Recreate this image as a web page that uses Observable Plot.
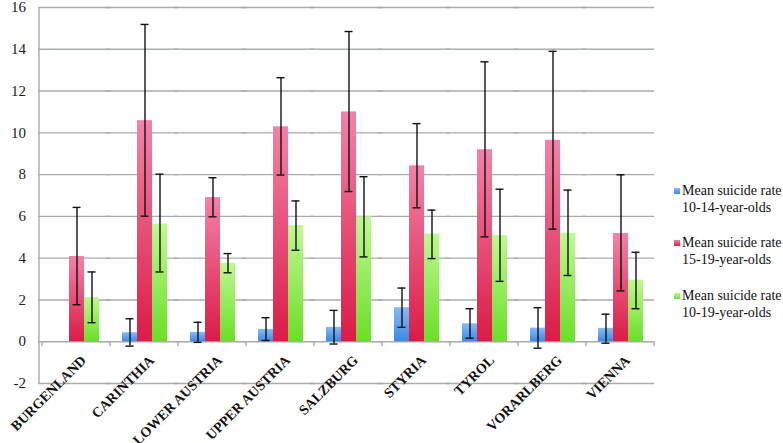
<!DOCTYPE html>
<html>
<head>
<meta charset="utf-8">
<script src="https://cdn.jsdelivr.net/npm/d3@7"></script>
<script src="https://cdn.jsdelivr.net/npm/@observablehq/plot@0.6"></script>
<style>
  body { margin: 0; background: #fff; }
  #wrap { position: relative; width: 783px; height: 443px; }
  .leg { position: absolute; left: 674px; font-family: "Liberation Serif", "Times New Roman", serif; font-size: 14px; line-height: 17px; color: #111; white-space: nowrap; }
  .leg .sw { position: absolute; left: 0; top: 6px; width: 6px; height: 6px; }
  .leg .tx { margin-left: 8px; }
</style>
</head>
<body>
<div id="wrap"></div>
<script>
// ---- data ----
const regions = ["BURGENLAND", "CARINTHIA", "LOWER AUSTRIA", "UPPER AUSTRIA", "SALZBURG", "STYRIA", "TYROL", "VORARLBERG", "VIENNA"];
const seriesKeys = ["10-14", "15-19", "10-19"];
const seriesLabels = ["Mean suicide rate\n10-14-year-olds", "Mean suicide rate\n15-19-year-olds", "Mean suicide rate\n10-19-year-olds"];
const yTicks = [-2, 0, 2, 4, 6, 8, 10, 12, 14, 16];

const rate10_14 = [null, 0.43, 0.45, 0.59, 0.69, 1.63, 0.86, 0.65, 0.64];
const low10_14  = [null, -0.21, -0.03, 0.06, -0.11, 0.69, 0.17, -0.31, -0.07];
const high10_14 = [null, 1.10, 0.93, 1.15, 1.50, 2.57, 1.58, 1.63, 1.32];

const rate15_19 = [4.08, 10.58, 6.90, 10.29, 11.00, 8.42, 9.19, 9.64, 5.18];
const low15_19  = [1.77, 6.01, 5.98, 7.98, 7.19, 6.41, 5.02, 5.39, 2.43];
const high15_19 = [6.43, 15.19, 7.85, 12.64, 14.85, 10.44, 13.40, 13.90, 7.99];

const rate10_19 = [2.11, 5.63, 3.75, 5.56, 5.98, 5.15, 5.08, 5.19, 2.94];
const low10_19  = [0.91, 3.34, 3.30, 4.38, 4.06, 3.98, 2.89, 3.17, 1.58];
const high10_19 = [3.34, 8.02, 4.22, 6.74, 7.90, 6.30, 7.30, 7.26, 4.28];

// ---- build table ----
const seriesData = [
  [rate10_14, low10_14, high10_14],
  [rate15_19, low15_19, high15_19],
  [rate10_19, low10_19, high10_19]
];
const rows = [];
seriesKeys.forEach((s, si) => {
  regions.forEach((r, ri) => {
    const [rate, lo, hi] = seriesData[si];
    if (rate[ri] != null) rows.push({region: r, series: s, rate: rate[ri], low: lo[ri], high: hi[ri]});
  });
});

const gradIds = {"10-14": "gBlue", "15-19": "gRed", "10-19": "gGreen"};
const gradStops = {
  gBlue: ["#86bcf6", "#3a89e4"],
  gRed: ["#f382a8", "#db1b46"],
  gGreen: ["#bff893", "#6adf27"]
};

const grid = "#a7adad";

const barMarks = seriesKeys.map(s => Plot.barY(rows.filter(d => d.series === s), {
  fx: "region", x: "series", y: "rate", fill: `url(#${gradIds[s]})`, insetLeft: 0, insetRight: 0
}));

const plot = Plot.plot({
  width: 783,
  height: 443,
  marginLeft: 39,
  marginRight: 127,
  marginTop: 7,
  marginBottom: 60,
  style: {fontFamily: "'Liberation Serif', 'Times New Roman', serif", fontSize: "14px", color: "#222", background: "#fff"},
  fx: {domain: regions, padding: 0, axis: null, label: null},
  x: {domain: seriesKeys, paddingInner: 0, paddingOuter: 0.74, axis: null, label: null},
  y: {domain: [-2, 16], axis: null, label: null},
  marks: [
    Plot.gridY(yTicks, {stroke: grid, strokeOpacity: 1, strokeWidth: 1.4, insetLeft: -4}),
    ...barMarks,
    Plot.ruleX(rows, {fx: "region", x: "series", y1: "low", y2: "high", stroke: "#111", strokeWidth: 1.4}),
    Plot.tickY(rows, {fx: "region", x: "series", y: "low", stroke: "#111", strokeWidth: 1.4, insetLeft: 3.5, insetRight: 3.5}),
    Plot.tickY(rows, {fx: "region", x: "series", y: "high", stroke: "#111", strokeWidth: 1.4, insetLeft: 3.5, insetRight: 3.5}),
    Plot.text(regions, {fx: d => d, x: () => seriesKeys[1], y: () => 0, text: d => d, rotate: -45, textAnchor: "end",
      fontWeight: "bold", fontSize: 14, fill: "#111"})
  ]
});

const fx = plot.scale("fx");
const y = plot.scale("y");
const svgNode = plot.tagName === "svg" ? plot : plot.querySelector("svg");
const svg = d3.select(svgNode);
const x0 = fx.range[0];
const bw = fx.bandwidth;
const ns = "http://www.w3.org/2000/svg";

// category labels: each Plot text sits in its facet group (origin shifted by fx(r) - marginLeft);
// wrap it in a translate group and a rotate group, and give the text no x/y/dy of its own
const labelNodes = [];
svg.selectAll("text").each(function() { if (regions.includes(this.textContent)) labelNodes.push(this); });
labelNodes.forEach(node => {
  const localX = x0 + bw / 2 + 3;
  const localY = y.apply(0) + 19.5;
  const g1 = document.createElementNS(ns, "g");
  g1.setAttribute("transform", `translate(${localX},${localY})`);
  const g2 = document.createElementNS(ns, "g");
  g2.setAttribute("transform", "rotate(-45)");
  node.parentNode.insertBefore(g1, node);
  g1.appendChild(g2);
  g2.appendChild(node);
  node.removeAttribute("transform");
  node.removeAttribute("x");
  node.removeAttribute("y");
  node.removeAttribute("dx");
  node.removeAttribute("dy");
  node.setAttribute("text-anchor", "end");
});

const defs = svg.insert("defs", ":first-child");
Object.entries(gradStops).forEach(([id, [c0, c1]]) => {
  const g = defs.append("linearGradient").attr("id", id).attr("x1", 0).attr("y1", 0).attr("x2", 0).attr("y2", 1);
  g.append("stop").attr("offset", "0%").attr("stop-color", c0);
  g.append("stop").attr("offset", "100%").attr("stop-color", c1);
});

const ax = svg.append("g");
ax.append("line").attr("x1", x0).attr("x2", x0).attr("y1", y.apply(16)).attr("y2", y.apply(-2))
  .attr("stroke", grid).attr("stroke-width", 1.4);
const bounds = regions.map(r => fx.apply(r)).concat([fx.apply(regions[regions.length - 1]) + bw]);
bounds.forEach(b => {
  ax.append("line").attr("x1", b).attr("x2", b).attr("y1", y.apply(0)).attr("y2", y.apply(0) + 5)
    .attr("stroke", grid).attr("stroke-width", 1.4);
});
yTicks.forEach(t => {
  ax.append("text").attr("x", x0 - 13).attr("y", y.apply(t)).attr("dy", "0.35em")
    .attr("text-anchor", "end").attr("fill", "#222").attr("font-size", 15).text(t);
});

const wrap = document.getElementById("wrap");
wrap.appendChild(plot);

// legend
const legTops = [182, 234, 287];
seriesKeys.forEach((s, i) => {
  const div = document.createElement("div");
  div.className = "leg";
  div.style.top = legTops[i] + "px";
  const [c0, c1] = gradStops[gradIds[s]];
  div.innerHTML = `<span class="sw" style="background:linear-gradient(${c0},${c1})"></span><div class="tx">${seriesLabels[i].replace("\n", "<br>")}</div>`;
  wrap.appendChild(div);
});
</script>
</body>
</html>
